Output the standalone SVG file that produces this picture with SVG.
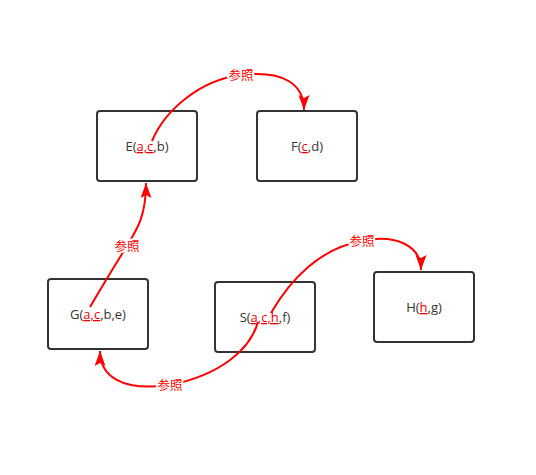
<svg xmlns="http://www.w3.org/2000/svg" width="536" height="475" viewBox="0 0 536 475">
<style>
.box{fill:#fff;stroke:#333;stroke-width:2}
.t{font-family:"Open Sans","Noto Sans",sans-serif;font-size:13px;fill:#333;text-anchor:middle}
.r{fill:#e00;text-decoration:underline}
.e{fill:none;stroke:#f00;stroke-width:2;marker-end:url(#ah)}
.lb{font-family:"Noto Sans CJK SC","Noto Sans",sans-serif;font-size:12.5px;fill:#f00;text-anchor:middle;stroke:#fff;stroke-width:4;paint-order:stroke;stroke-linejoin:round}
</style>
<defs>
<marker id="ah" markerUnits="userSpaceOnUse" markerWidth="16" markerHeight="12" refX="15" refY="5.5" orient="auto">
<path d="M0,0 L15,5.5 L0,11 L3,5.5 z" fill="#f00"/>
</marker>
</defs>
<rect width="536" height="475" fill="#fff"/>
<g id="E"><rect class="box" x="97" y="111" width="100" height="70" rx="3"/><text class="t" x="147" y="151">E(<tspan class="r">a,c</tspan>,b)</text></g>
<g id="F"><rect class="box" x="257" y="111" width="100" height="70" rx="3"/><text class="t" x="307" y="151">F(<tspan class="r">c</tspan>,d)</text></g>
<g id="G"><rect class="box" x="48" y="279" width="100" height="70" rx="3"/><text class="t" x="98" y="319">G(<tspan class="r">a,c</tspan>,b,e)</text></g>
<g id="S"><rect class="box" x="215" y="282" width="100" height="70" rx="3"/><text class="t" x="265" y="322">S(<tspan class="r">a,c,h</tspan>,f)</text></g>
<g id="H"><rect class="box" x="374" y="272" width="100" height="70" rx="3"/><text class="t" x="424" y="312">H(<tspan class="r">h</tspan>,g)</text></g>
<g id="connectors">
<path class="e" d="M152,141 C165,110 200,80 241,75 C285,70 304,85 304,110"/>
<path class="e" d="M90,307 C100,290 115,265 127,246 C138,228 146,215 146,183"/>
<path class="e" d="M258,322 C250,350 220,375 170,385 C120,392 100,375 100,351"/>
<path class="e" d="M271,313 C290,280 320,248 362,241 C395,234 421,245 421,270"/>
<text class="lb" x="241" y="80">参照</text>
<text class="lb" x="127" y="251">参照</text>
<text class="lb" x="170" y="390">参照</text>
<text class="lb" x="362" y="246">参照</text>
</g>
</svg>
